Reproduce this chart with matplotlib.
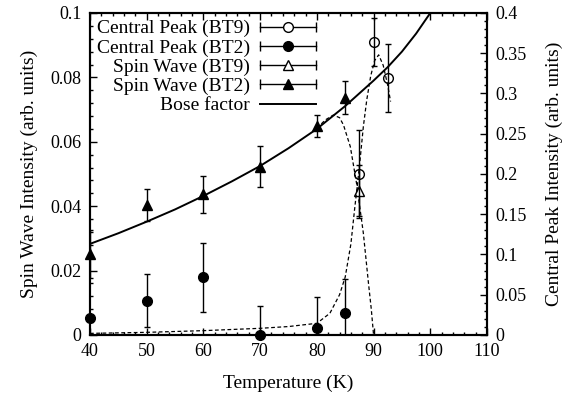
import numpy as np
import matplotlib
matplotlib.use("Agg")
import matplotlib.pyplot as plt
from matplotlib.lines import Line2D
from matplotlib.legend_handler import HandlerLine2D, HandlerTuple
from matplotlib.ticker import MultipleLocator

plt.rcParams['font.family'] = ['Liberation Serif', 'DejaVu Serif']
plt.rcParams['font.size'] = 13

# spin wave intensity (left axis)
sw_bt2_T = [40, 50, 60, 70, 80, 85]
sw_bt2_I = [0.0252, 0.0404, 0.0437, 0.0523, 0.0649, 0.0737]
sw_bt2_err = [0.0075, 0.005, 0.0058, 0.0063, 0.0035, 0.0051]

sw_bt9_T = [87.5]
sw_bt9_I = [0.0448]
sw_bt9_err = [0.008]

# central peak intensity (right axis)
cp_bt9_T = [87.5, 90, 92.5]
cp_bt9_I = [0.200, 0.364, 0.319]
cp_bt9_err = [0.055, 0.030, 0.042]

cp_bt2_T = [40, 50, 60, 70, 80, 85]
cp_bt2_I = [0.021, 0.0426, 0.0717, 0.0, 0.0083, 0.027]
cp_bt2_err = [0.0, 0.033, 0.043, 0.036, 0.0385, 0.0426]

# bose factor curve (left axis)
bose_T = [40, 45, 50, 55, 60, 65, 70, 75, 80, 85, 90, 92.5, 95, 97.5, 100]
bose_I = [0.0283, 0.0316, 0.0352, 0.0390, 0.0432, 0.0477, 0.0525, 0.0580,
          0.0640, 0.0711, 0.0790, 0.0832, 0.0880, 0.0936, 0.1000]

# dashed fit of spin wave below Tc (left axis)
swfit_T = [80, 81.5, 82.9, 84, 84.7, 85.9, 87.0, 88.2, 89.1, 89.6, 90.0]
swfit_I = [0.0642, 0.0668, 0.0683, 0.0675, 0.0652, 0.0585, 0.0471, 0.0316,
           0.0161, 0.008, 0.0]

# dashed fit of central peak (right axis)
cpfit_T = [40, 50, 60, 70, 75, 80, 82.3, 84, 85, 86, 86.7, 87.5, 88.2, 88.8,
           89.5, 90.2, 90.9, 91.7, 92.5, 93]
cpfit_I = [0.002, 0.0033, 0.0054, 0.0083, 0.0105, 0.0145, 0.027, 0.05, 0.072,
           0.113, 0.159, 0.209, 0.259, 0.292, 0.322, 0.341, 0.348, 0.335,
           0.31, 0.29]

DASH = (0, (3, 2))

fig = plt.figure(figsize=(5.77, 4.01), dpi=100)
ax = fig.add_axes([0.156, 0.1646, 0.688, 0.803])
ax2 = ax.twinx()

eb = dict(fmt='none', ecolor='black', elinewidth=1.0, capsize=2.5, capthick=1.0)
ax.errorbar(sw_bt2_T, sw_bt2_I, yerr=sw_bt2_err, **eb)
ax.errorbar(sw_bt9_T, sw_bt9_I, yerr=sw_bt9_err, **eb)
ax2.errorbar(cp_bt9_T, cp_bt9_I, yerr=cp_bt9_err, **eb)
ax2.errorbar(cp_bt2_T, cp_bt2_I, yerr=cp_bt2_err, **eb)

ax.plot(bose_T, bose_I, color='black', lw=1.4)
ax.plot(swfit_T, swfit_I, color='black', lw=0.9, linestyle=DASH)
ax2.plot(cpfit_T, cpfit_I, color='black', lw=0.9, linestyle=DASH)

ms = 7
ax.plot(sw_bt2_T, sw_bt2_I, '^', color='black', ms=ms, clip_on=False, zorder=5)
ax.plot(sw_bt9_T, sw_bt9_I, '^', mfc='white', mec='black', mew=1.0, ms=ms, clip_on=False, zorder=5)
ax2.plot(cp_bt9_T, cp_bt9_I, 'o', mfc='none', mec='black', mew=1.0, ms=ms, clip_on=False, zorder=5)
ax2.plot(cp_bt2_T, cp_bt2_I, 'o', color='black', ms=ms, clip_on=False, zorder=5)

ax.set_xlim(40, 110)
ax.set_ylim(0, 0.1)
ax2.set_ylim(0, 0.4)

ax.xaxis.set_major_locator(MultipleLocator(10))
ax.xaxis.set_minor_locator(MultipleLocator(2))
ax.yaxis.set_minor_locator(MultipleLocator(0.004))
ax2.yaxis.set_minor_locator(MultipleLocator(0.01))

ax.set_yticks([0, 0.02, 0.04, 0.06, 0.08, 0.1], ['0', '0.02', '0.04', '0.06', '0.08', '0.1'])
ax2.set_yticks([0, 0.05, 0.1, 0.15, 0.2, 0.25, 0.3, 0.35, 0.4],
               ['0', '0.05', '0.1', '0.15', '0.2', '0.25', '0.3', '0.35', '0.4'])

ax.tick_params(which='both', direction='in', top=True, right=False, width=1.0)
ax.tick_params(which='major', length=5, pad=6)
ax.tick_params(which='minor', length=2.5)
ax2.tick_params(which='both', direction='in', width=1.0)
ax2.tick_params(which='major', length=5, pad=6)
ax2.tick_params(which='minor', length=2.5)
for a in (ax, ax2):
    for s in a.spines.values():
        s.set_linewidth(1.5)

ax.set_xlabel('Temperature (K)', fontsize=14, labelpad=10)
ax.set_ylabel('Spin Wave Intensity (arb. units)', fontsize=14, labelpad=9)
ax2.set_ylabel('Central Peak Intensity (arb. units)', fontsize=14, labelpad=14)

# legend: label on the left, sample with error caps on the right
caps = Line2D([], [], color='black', lw=1.0, marker='|', ms=7, mew=1.0)
h_cp9 = Line2D([], [], ls='none', marker='o', mfc='white', mec='black', ms=ms)
h_cp2 = Line2D([], [], ls='none', marker='o', color='black', ms=ms)
h_sw9 = Line2D([], [], ls='none', marker='^', mfc='white', mec='black', ms=ms)
h_sw2 = Line2D([], [], ls='none', marker='^', color='black', ms=ms)
h_bose = Line2D([], [], color='black', lw=1.4)
hmap = {caps: HandlerLine2D(numpoints=2, marker_pad=0)}
for h in (h_cp9, h_cp2, h_sw9, h_sw2):
    hmap[h] = HandlerLine2D(numpoints=1)
hmap[tuple] = HandlerTuple(ndivide=1, pad=0)
leg = ax2.legend([(caps, h_cp9), (caps, h_cp2), (caps, h_sw9), (caps, h_sw2), h_bose],
                 ['Central Peak (BT9)', 'Central Peak (BT2)', 'Spin Wave (BT9)',
                  'Spin Wave (BT2)', 'Bose factor'],
                 handler_map=hmap, loc='upper left', bbox_to_anchor=(0.0, 1.0),
                 frameon=False, markerfirst=False, fontsize=14, handlelength=2.9,
                 handletextpad=0.5, labelspacing=0.08, borderaxespad=0.05,
                 borderpad=0.3)

fig.savefig('out.png', dpi=100)
